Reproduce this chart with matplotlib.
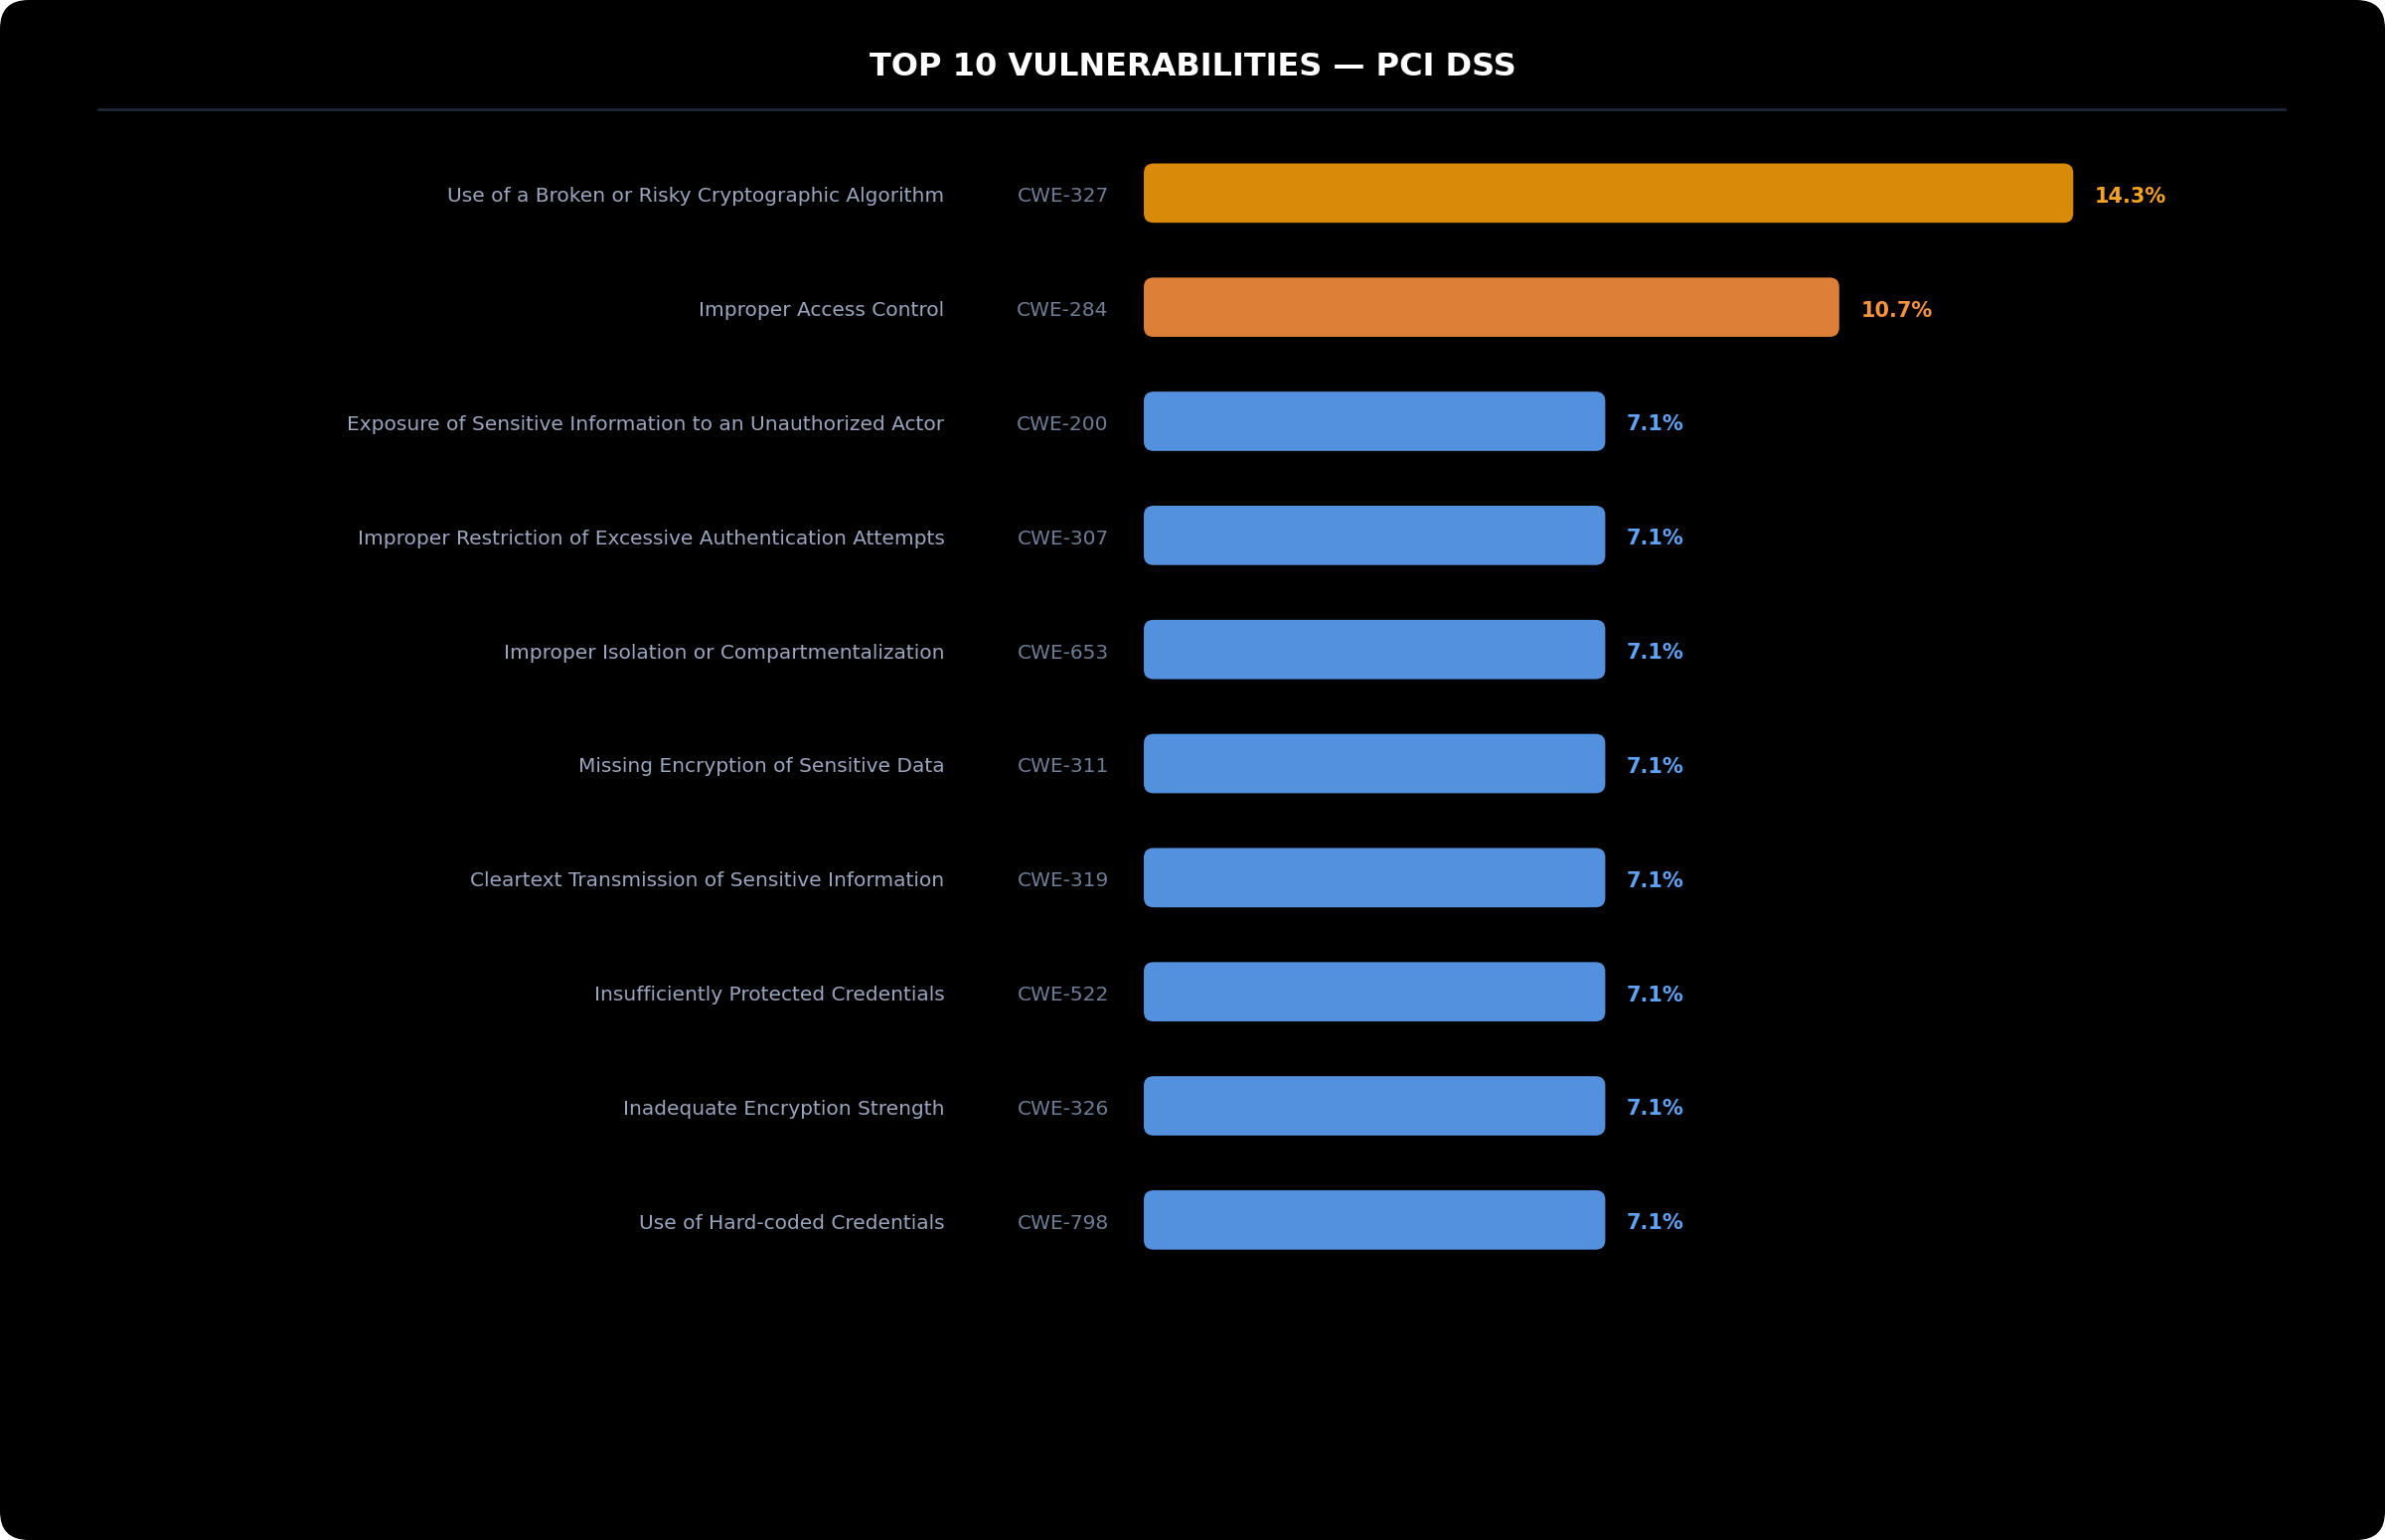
import matplotlib
matplotlib.use("Agg")
import matplotlib.pyplot as plt
from matplotlib.patches import FancyBboxPatch, Rectangle

names = ["Use of a Broken or Risky Cryptographic Algorithm", "Improper Access Control",
         "Exposure of Sensitive Information to an Unauthorized Actor",
         "Improper Restriction of Excessive Authentication Attempts",
         "Improper Isolation or Compartmentalization", "Missing Encryption of Sensitive Data",
         "Cleartext Transmission of Sensitive Information", "Insufficiently Protected Credentials",
         "Inadequate Encryption Strength", "Use of Hard-coded Credentials"]
cwes = ["CWE-327", "CWE-284", "CWE-200", "CWE-307", "CWE-653", "CWE-311",
        "CWE-319", "CWE-522", "CWE-326", "CWE-798"]
values = [14.3, 10.7, 7.1, 7.1, 7.1, 7.1, 7.1, 7.1, 7.1, 7.1]
bar_colors = ["#D98A08", "#DE7F38"] + ["#5391DE"] * 8
text_colors = ["#F5A41F", "#F5923E"] + ["#5EA3F5"] * 8

W, H = 1568, 1013
fig = plt.figure(figsize=(24, 15.5), dpi=100, facecolor="white")
fig.patches.append(FancyBboxPatch((0, 0), 1, 1, boxstyle="round,pad=0,rounding_size=0.012",
                                  mutation_aspect=W / H, transform=fig.transFigure,
                                  facecolor="black", edgecolor="none", zorder=-10))

def fx(x): return x / W
def fy(y): return 1 - y / H

fig.text(0.5, fy(44), "TOP 10 VULNERABILITIES — PCI DSS", ha="center", va="center",
         color="white", fontsize=23, fontweight="bold", family="DejaVu Sans")
fig.add_artist(plt.Line2D([fx(65), fx(1502)], [fy(72), fy(72)], color="#1E2838", lw=2))

ax = fig.add_axes([fx(752), fy(840), fx(1502 - 752), (840 - 89.5) / H])
ax.set_facecolor("none")
xmax = 750 / 42.73
ax.set_xlim(0, xmax)
ax.set_ylim(len(values) - 0.5, -0.5)
ax.axis("off")
h = 0.52
for i, (v, bc, tc) in enumerate(zip(values, bar_colors, text_colors)):
    ax.add_patch(FancyBboxPatch((0, i - h / 2), v, h, boxstyle="round,pad=0,rounding_size=0.15",
                                mutation_aspect=0.55, facecolor=bc, edgecolor="none"))
    ax.text(v + 0.33, i + 0.03, f"{v}%", color=tc, fontsize=15, fontweight="bold",
            ha="left", va="center")
    ax.text(-(752 - 621) / 42.73, i + 0.03, names[i], color="#9AA5BE", fontsize=14.5,
            ha="right", va="center")
    ax.text(-(752 - 729) / 42.73, i + 0.03, cwes[i], color="#6E7E96", fontsize=14.5,
            ha="right", va="center")

fig.savefig("out.png", dpi=100, facecolor=fig.get_facecolor())
